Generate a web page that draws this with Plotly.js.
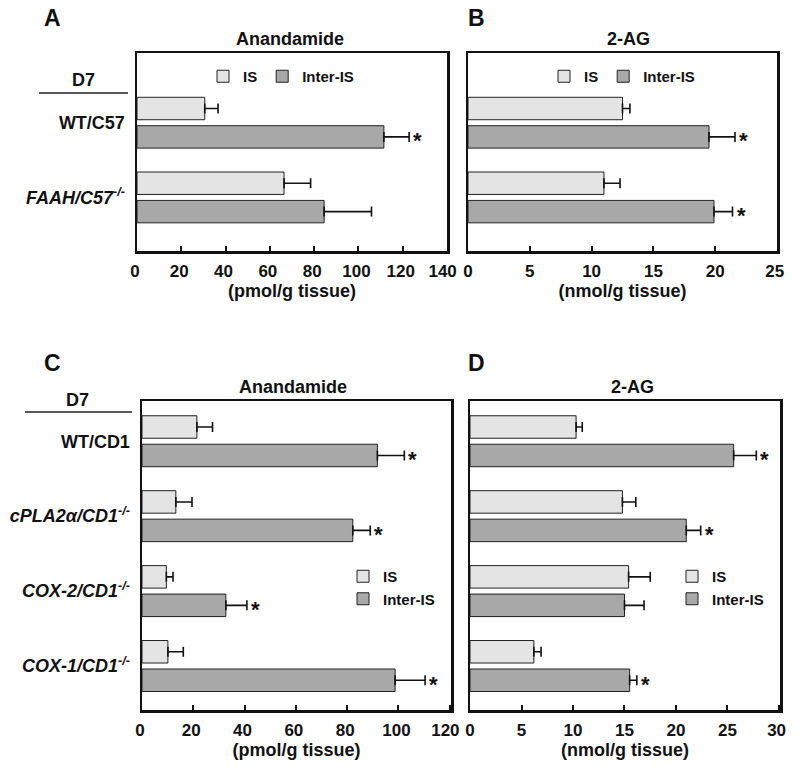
<!DOCTYPE html>
<html><head><meta charset="utf-8">
<script src="https://cdn.plot.ly/plotly-3.0.1.min.js"></script>
<style>body{margin:0;background:#fff}#chart{width:800px;height:771px}</style>
</head><body><div id="chart"></div>
<script>
// ---------- DATA ----------
const seriesNames = ["IS", "Inter-IS"];
// Panels A & B (C57 background)
const catsAB = ["WT/C57", "FAAH/C57"];
const labelsAB = ["WT/C57", "<i>FAAH/C57</i><sup><i>-/-</i></sup>"];
// Panels C & D (CD1 background)
const catsCD = ["WT/CD1", "cPLA2α/CD1", "COX-2/CD1", "COX-1/CD1"];
const labelsCD = ["WT/CD1", "<i>cPLA2α/CD1</i><sup><i>-/-</i></sup>",
                  "<i>COX-2/CD1</i><sup><i>-/-</i></sup>", "<i>COX-1/CD1</i><sup><i>-/-</i></sup>"];

// A: Anandamide (pmol/g tissue)
const aIS = [30.6, 66.4],  aISerr = [6.0, 12.0];
const aInter = [111.5, 84.5], aInterErr = [11.4, 21.4];
const aStar = [true, false];
// B: 2-AG (nmol/g tissue)
const bIS = [12.5, 11.0],  bISerr = [0.6, 1.3];
const bInter = [19.5, 19.9], bInterErr = [2.1, 1.5];
const bStar = [true, true];
// C: Anandamide (pmol/g tissue)
const cIS = [21.4, 13.2, 9.5, 10.1], cISerr = [6.1, 6.3, 2.6, 6.0];
const cInter = [91.8, 82.2, 32.7, 98.7], cInterErr = [10.5, 6.8, 8.2, 11.7];
const cStar = [true, true, true, true];
// D: 2-AG (nmol/g tissue)
const dIS = [10.3, 14.8, 15.4, 6.2], dISerr = [0.6, 1.3, 2.1, 0.7];
const dInter = [25.6, 21.0, 15.0, 15.5], dInterErr = [2.2, 1.4, 1.9, 0.7];
const dStar = [true, true, false, true];

// tick values of the value axes
const ticksA = [0, 20, 40, 60, 80, 100, 120, 140];
const ticksB = [0, 5, 10, 15, 20, 25];
const ticksC = [0, 20, 40, 60, 80, 100, 120];
const ticksD = [0, 5, 10, 15, 20, 25, 30];

// ---------- STYLE ----------
const W = 800, H = 771;
const FONT = "Liberation Sans, Arial, sans-serif";
const colIS = "#e4e4e4", colInter = "#a8a8a8";
const BARGAP = 0.24, GROUPGAP = 0.21;
const px = v => v / W;            // x pixel -> paper
const py = v => 1 - v / H;        // y pixel -> paper
const NB = "\u00a0";

const panels = [
  {ax: "", cats: catsAB, labels: labelsAB, is: aIS, isErr: aISerr, inter: aInter, interErr: aInterErr, star: aStar, leg: "legend"},
  {ax: "2", cats: catsAB, labels: labelsAB, is: bIS, isErr: bISerr, inter: bInter, interErr: bInterErr, star: bStar, leg: "legend2"},
  {ax: "3", cats: catsCD, labels: labelsCD, is: cIS, isErr: cISerr, inter: cInter, interErr: cInterErr, star: cStar, leg: "legend3"},
  {ax: "4", cats: catsCD, labels: labelsCD, is: dIS, isErr: dISerr, inter: dInter, interErr: dInterErr, star: dStar, leg: "legend4"}
];

const traces = [];
const annotations = [];
const interOffset = (1 - BARGAP) / 4;
panels.forEach(p => {
  const common = {type: "bar", orientation: "h", xaxis: "x" + p.ax, yaxis: "y" + p.ax, legend: p.leg, cliponaxis: false};
  traces.push(Object.assign({}, common, {
    name: seriesNames[0], x: p.is, y: p.cats,
    marker: {color: colIS, line: {color: "#222", width: 1}},
    error_x: {type: "data", array: p.isErr, symmetric: false, arrayminus: p.isErr.map(() => 0), color: "#111", thickness: 1.6, width: 5}
  }));
  traces.push(Object.assign({}, common, {
    name: seriesNames[1], x: p.inter, y: p.cats,
    marker: {color: colInter, line: {color: "#222", width: 1}},
    error_x: {type: "data", array: p.interErr, symmetric: false, arrayminus: p.interErr.map(() => 0), color: "#111", thickness: 1.6, width: 5}
  }));
  p.star.forEach((s, i) => {
    if (!s) return;
    annotations.push({xref: "x" + p.ax, yref: "y" + p.ax, x: p.inter[i] + p.interErr[i], y: i + interOffset,
      text: "*", showarrow: false, xanchor: "left", yanchor: "middle", xshift: 2, yshift: -4,
      font: {family: FONT, size: 22, color: "#111", weight: "bold"}});
  });
});

const textAnn = (x, y, text, size) => ({xref: "paper", yref: "paper", x: px(x), y: py(y), text: text,
  showarrow: false, xanchor: "center", yanchor: "middle", font: {family: FONT, size: size, color: "#111", weight: "bold"}});

annotations.push(
  textAnn(52, 18, "A", 23), textAnn(476, 18, "B", 23), textAnn(52, 363, "C", 23), textAnn(476, 363, "D", 23),
  textAnn(290, 39, "Anandamide", 18), textAnn(628, 39, "2-AG", 18),
  textAnn(293, 387, "Anandamide", 18), textAnn(632, 387, "2-AG", 18),
  textAnn(83, 80, "D7", 18), textAnn(77, 400, "D7", 18)
);

const shapes = [
  {type: "line", xref: "paper", yref: "paper", x0: px(39), x1: px(128), y0: py(93), y1: py(93), line: {color: "#222", width: 1.5}},
  {type: "line", xref: "paper", yref: "paper", x0: px(25), x1: px(132), y0: py(412), y1: py(412), line: {color: "#222", width: 1.5}}
];

const tickFont = {family: FONT, size: 17, color: "#111", weight: "bold"};
const titleFont = {family: FONT, size: 18, color: "#111", weight: "bold"};
// last tick label sits a little left of its tick (as in the figure)
const tickText = ticks => ticks.map((t, i) => i === ticks.length - 1 ? String(t) + NB : String(t));
const xAxis = (dom, range, ticks, shift, title, anchor) => ({
  domain: dom, range: range, tickmode: "array", tickvals: ticks, ticktext: tickText(ticks), anchor: anchor,
  showgrid: false, zeroline: false, ticklabelshift: shift,
  showline: true, mirror: true, linecolor: "#111", linewidth: 2.5, ticklabeloverflow: "allow",
  ticks: "inside", ticklen: 5, tickwidth: 2, tickcolor: "#111", tickfont: tickFont, ticklabelstandoff: 3,
  title: {text: title, font: titleFont, standoff: 4}, automargin: false, fixedrange: true
});
const yAxis = (dom, range, cats, labels, anchor, showLabels) => ({
  domain: dom, range: range, type: "category", categoryarray: cats, anchor: anchor,
  tickvals: cats, ticktext: labels, showticklabels: showLabels, showgrid: false, zeroline: false,
  showline: true, mirror: true, linecolor: "#111", linewidth: 2.5, ticks: "",
  tickfont: {family: FONT, size: 18, color: "#111", weight: "bold"}, ticklabelstandoff: 6, automargin: false, fixedrange: true
});

const legendBase = {font: {family: FONT, size: 15, color: "#111", weight: "bold"}, bgcolor: "rgba(0,0,0,0)",
  itemwidth: 30, tracegroupgap: 0, xref: "paper", yref: "paper"};

const layout = {
  width: W, height: H, margin: {l: 0, r: 0, t: 0, b: 0}, paper_bgcolor: "#fff", plot_bgcolor: "#fff",
  barmode: "group", bargap: BARGAP, bargroupgap: GROUPGAP, showlegend: true,
  xaxis: xAxis([px(137), px(447)], [0, 140], ticksA, -2, "(pmol/g tissue)", "y"),
  yaxis: yAxis([py(251), py(53)], [1.717, -0.933], catsAB, labelsAB, "x", true),
  xaxis2: xAxis([px(468), px(777)], [0, 25], ticksB, 0, "(nmol/g tissue)", "y2"),
  yaxis2: yAxis([py(251), py(53)], [1.717, -0.933], catsAB, labelsAB, "x2", false),
  xaxis3: xAxis([px(142), px(451)], [0, 120.5], ticksC, -2, "(pmol/g tissue)", "y3"),
  yaxis3: yAxis([py(710), py(401)], [3.587, -0.537], catsCD, labelsCD, "x3", true),
  xaxis4: xAxis([px(470), px(780)], [0, 30.1], ticksD, 0, "(nmol/g tissue)", "y4"),
  yaxis4: yAxis([py(710), py(401)], [3.587, -0.537], catsCD, labelsCD, "x4", false),
  legend: Object.assign({}, legendBase, {orientation: "h", x: px(281), xanchor: "center", y: py(60), yanchor: "top"}),
  legend2: Object.assign({}, legendBase, {orientation: "h", x: px(622), xanchor: "center", y: py(60), yanchor: "top"}),
  legend3: Object.assign({}, legendBase, {orientation: "v", x: px(343), xanchor: "left", y: py(560), yanchor: "top"}),
  legend4: Object.assign({}, legendBase, {orientation: "v", x: px(672), xanchor: "left", y: py(560), yanchor: "top"}),
  annotations: annotations, shapes: shapes
};

Plotly.newPlot("chart", traces, layout, {displayModeBar: false, staticPlot: true});
</script>
</body></html>
